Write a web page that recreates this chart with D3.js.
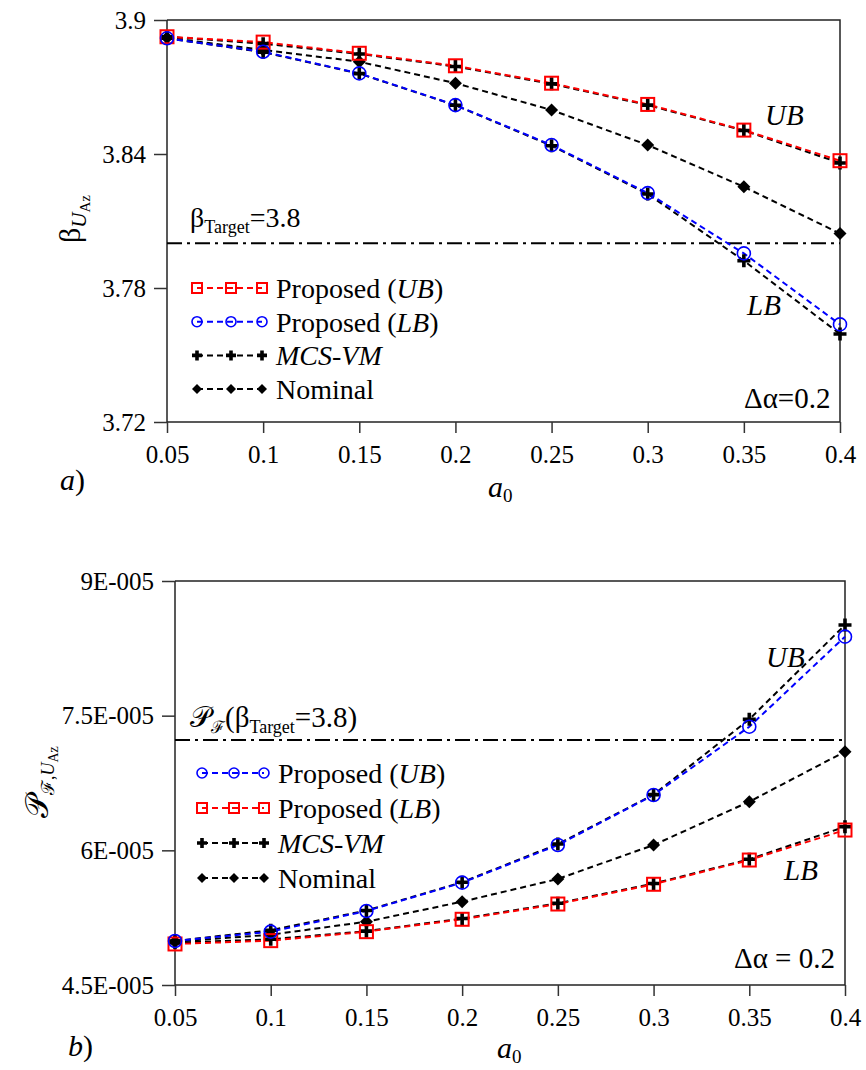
<!DOCTYPE html>
<html>

<head>
    <script src="https://d3js.org/d3.v7.min.js"></script>
</head>

<body style="margin:0">
    <svg id="canvas" width="866" height="1070" font-family="Liberation Serif"></svg>
    <script>
        const svg = d3.select('#canvas');
        const FONT = '"Liberation Serif", Tinos, "Times New Roman", serif';

        //shared x values (a0)
        const a0 = [0.05, 0.1, 0.15, 0.2, 0.25, 0.3, 0.35, 0.4];
        const xTickLabels = ['0.05', '0.1', '0.15', '0.2', '0.25', '0.3', '0.35', '0.4'];

        //panel a) reliability index
        const betaUB = [3.8925, 3.8901, 3.8851, 3.8795, 3.8717, 3.8622, 3.8507, 3.8370];
        const betaLB = [3.8918, 3.8858, 3.8761, 3.8619, 3.8440, 3.8225, 3.7955, 3.7637];
        const betaMcsUpper = [3.8925, 3.8894, 3.8848, 3.8792, 3.8714, 3.8619, 3.8505, 3.8360];
        const betaMcsLower = [3.8918, 3.8856, 3.8760, 3.8618, 3.8437, 3.8221, 3.7922, 3.7594];
        const betaNominal = [3.8921, 3.8866, 3.8813, 3.8717, 3.8597, 3.8440, 3.8253, 3.8044];
        const betaTarget = 3.8;
        const betaTicks = [3.72, 3.78, 3.84, 3.9];
        const betaTickLabels = ['3.72', '3.78', '3.84', '3.9'];

        //panel b) failure probability
        const pfUB = [4.990e-5, 5.094e-5, 5.324e-5, 5.640e-5, 6.059e-5, 6.616e-5, 7.377e-5, 8.380e-5];
        const pfLB = [4.957e-5, 4.994e-5, 5.094e-5, 5.232e-5, 5.402e-5, 5.622e-5, 5.892e-5, 6.226e-5];
        const pfMcsUpper = [4.990e-5, 5.110e-5, 5.330e-5, 5.645e-5, 6.070e-5, 6.620e-5, 7.459e-5, 8.510e-5];
        const pfMcsLower = [4.970e-5, 5.009e-5, 5.100e-5, 5.240e-5, 5.410e-5, 5.630e-5, 5.900e-5, 6.263e-5];
        const pfNominal = [4.983e-5, 5.060e-5, 5.205e-5, 5.428e-5, 5.681e-5, 6.059e-5, 6.542e-5, 7.099e-5];
        const pfTarget = 7.229e-5;
        const pfTicks = [4.5e-5, 6e-5, 7.5e-5, 9e-5];
        const pfTickLabels = ['4.5E-005', '6E-005', '7.5E-005', '9E-005'];

        const RED = '#ff0000';
        const BLUE = '#0000ff';
        const DASH = '6,4';

        //marker drawers --------------------------------------------------
        function drawMarker(g, type, cx, cy, s) {
            if (type === 'square') {
                g.append('rect').attr('x', cx - s / 2).attr('y', cy - s / 2)
                    .attr('width', s).attr('height', s)
                    .attr('fill', 'none').attr('stroke', RED).attr('stroke-width', 2);
            } else if (type === 'circle') {
                g.append('circle').attr('cx', cx).attr('cy', cy).attr('r', s / 2)
                    .attr('fill', 'none').attr('stroke', BLUE).attr('stroke-width', 1.6);
            } else if (type === 'plus') {
                g.append('path')
                    .attr('d', `M${cx - s / 2},${cy}H${cx + s / 2}M${cx},${cy - s / 2}V${cy + s / 2}`)
                    .attr('stroke', '#000').attr('stroke-width', 3.6).attr('fill', 'none');
            } else if (type === 'diamond') {
                g.append('path')
                    .attr('d', `M${cx},${cy - s / 2}L${cx + s / 2},${cy}L${cx},${cy + s / 2}L${cx - s / 2},${cy}Z`)
                    .attr('fill', '#000');
            }
        }

        //one panel -------------------------------------------------------
        function drawPanel(p) {
            const x = d3.scaleLinear().domain([0.05, 0.4]).range([p.left, p.right]);
            const y = d3.scaleLinear().domain(p.yDomain).range([p.bottom, p.top]);
            const g = svg.append('g');

            //frame (top & right)
            g.append('path')
                .attr('d', `M${p.left},${p.top}H${p.right}V${p.bottom}`)
                .attr('fill', 'none').attr('stroke', '#222').attr('stroke-width', 1.5);

            //axes
            const yAxis = g.append('g')
                .attr('transform', `translate(${p.left},0)`)
                .call(d3.axisLeft(y).tickValues(p.yTicks)
                    .tickFormat((d, i) => p.yTickLabels[i]).tickSize(13).tickPadding(8));
            const xAxis = g.append('g')
                .attr('transform', `translate(0,${p.bottom})`)
                .call(d3.axisBottom(x).tickValues(a0)
                    .tickFormat((d, i) => xTickLabels[i]).tickSize(11).tickPadding(12));
            [yAxis, xAxis].forEach(ax => {
                ax.attr('font-family', FONT).attr('font-size', 25);
                ax.select('.domain').attr('stroke', '#222').attr('stroke-width', 1.5);
                ax.selectAll('.tick line').attr('stroke', '#333').attr('stroke-width', 1.5);
                ax.selectAll('.tick text').attr('fill', '#000');
            });
            xAxis.selectAll('.domain').attr('d', `M${p.left},0H${p.right}`);
            yAxis.selectAll('.domain').attr('d', `M0,${p.bottom}V${p.top}`);

            //target line
            g.append('line')
                .attr('x1', p.left).attr('x2', p.right)
                .attr('y1', y(p.target)).attr('y2', y(p.target))
                .attr('stroke', '#000').attr('stroke-width', 2)
                .attr('stroke-dasharray', '15,5,3,5');

            //series lines then markers
            const line = d3.line().x((d, i) => x(a0[i])).y(d => y(d));
            p.series.forEach(s => {
                g.append('path').datum(s.values)
                    .attr('d', line)
                    .attr('fill', 'none').attr('stroke', s.color)
                    .attr('stroke-width', 2).attr('stroke-dasharray', DASH);
            });
            p.series.forEach(s => {
                s.values.forEach((v, i) => drawMarker(g, s.marker, x(a0[i]), y(v), s.size));
            });

            //legend
            p.legend.forEach((item, i) => {
                const ly = p.legendY + i * p.legendStep;
                g.append('line')
                    .attr('x1', p.legendX[0]).attr('x2', p.legendX[2])
                    .attr('y1', ly).attr('y2', ly)
                    .attr('stroke', item.color).attr('stroke-width', 2)
                    .attr('stroke-dasharray', DASH);
                p.legendX.forEach(lx => drawMarker(g, item.marker, lx, ly, 10));
                const t = g.append('text')
                    .attr('x', p.legendX[2] + 14).attr('y', ly + 10)
                    .attr('font-size', 28);
                item.label.forEach(part => {
                    t.append('tspan').text(part.t)
                        .attr('font-style', part.i ? 'italic' : 'normal');
                });
            });

            return { x, y, g };
        }

        //panel a)
        drawPanel({
            left: 167, right: 840, top: 20, bottom: 422,
            yDomain: [3.72, 3.9], yTicks: betaTicks, yTickLabels: betaTickLabels,
            target: betaTarget,
            series: [
                { values: betaNominal, color: '#000', marker: 'diamond', size: 13 },
                { values: betaMcsUpper, color: '#000', marker: 'plus', size: 13 },
                { values: betaMcsLower, color: '#000', marker: 'plus', size: 13 },
                { values: betaUB, color: RED, marker: 'square', size: 13 },
                { values: betaLB, color: BLUE, marker: 'circle', size: 13 }
            ],
            legendX: [197, 231, 262], legendY: 288, legendStep: 33.7,
            legend: [
                { color: RED, marker: 'square', label: [{ t: 'Proposed (' }, { t: 'UB', i: true }, { t: ')' }] },
                { color: BLUE, marker: 'circle', label: [{ t: 'Proposed (' }, { t: 'LB', i: true }, { t: ')' }] },
                { color: '#000', marker: 'plus', label: [{ t: 'MCS-VM', i: true }] },
                { color: '#000', marker: 'diamond', label: [{ t: 'Nominal' }] }
            ]
        });

        //panel b)
        drawPanel({
            left: 175, right: 845, top: 581, bottom: 985,
            yDomain: [4.5e-5, 9e-5], yTicks: pfTicks, yTickLabels: pfTickLabels,
            target: pfTarget,
            series: [
                { values: pfNominal, color: '#000', marker: 'diamond', size: 13 },
                { values: pfMcsUpper, color: '#000', marker: 'plus', size: 13 },
                { values: pfMcsLower, color: '#000', marker: 'plus', size: 13 },
                { values: pfLB, color: RED, marker: 'square', size: 13 },
                { values: pfUB, color: BLUE, marker: 'circle', size: 13 }
            ],
            legendX: [202, 234, 264], legendY: 773, legendStep: 35,
            legend: [
                { color: BLUE, marker: 'circle', label: [{ t: 'Proposed (' }, { t: 'UB', i: true }, { t: ')' }] },
                { color: RED, marker: 'square', label: [{ t: 'Proposed (' }, { t: 'LB', i: true }, { t: ')' }] },
                { color: '#000', marker: 'plus', label: [{ t: 'MCS-VM', i: true }] },
                { color: '#000', marker: 'diamond', label: [{ t: 'Nominal' }] }
            ]
        });

        //annotations -----------------------------------------------------
        function note(x, yy, parts, size) {
            const t = svg.append('text').attr('x', x).attr('y', yy).attr('font-size', size);
            parts.forEach(p => {
                const s = t.append('tspan').text(p.t)
                    .attr('font-style', p.i ? 'italic' : 'normal');
                if (p.sub) s.attr('font-size', p.sub);
                if (p.dy) s.attr('dy', p.dy);
            });
            return t;
        }

        //panel a texts
        note(190, 227, [{ t: 'β' }, { t: 'Target', sub: 18, dy: 6 }, { t: '=3.8', dy: -6 }], 28);
        note(765, 125, [{ t: 'UB', i: true }], 29);
        note(747, 315, [{ t: 'LB', i: true }], 29);
        note(744, 408, [{ t: 'Δα=0.2' }], 29);
        note(60, 490, [{ t: 'a', i: true }, { t: ')' }], 30);
        note(488, 497, [{ t: 'a', i: true }, { t: '0', sub: 19, dy: 5 }], 30);
        svg.append('text')
            .attr('transform', 'translate(80,243) rotate(-90)')
            .attr('font-size', 30)
            .call(t => {
                t.append('tspan').text('β');
                t.append('tspan').text('U').attr('font-style', 'italic').attr('font-size', 21).attr('dy', 6);
                t.append('tspan').text('Az').attr('font-size', 15).attr('dy', 4);
            });

        //panel b texts
        note(190, 727, [{ t: '𝒫' }, { t: 'ℱ', sub: 17, dy: 6 }, { t: '(β', dy: -6 }, { t: 'Target', sub: 18, dy: 6 }, { t: '=3.8)', dy: -6 }], 29);
        note(766, 667, [{ t: 'UB', i: true }], 29);
        note(784, 880, [{ t: 'LB', i: true }], 29);
        note(734, 968, [{ t: 'Δα = 0.2' }], 29);
        note(68, 1056, [{ t: 'b', i: true }, { t: ')' }], 30);
        note(497, 1058, [{ t: 'a', i: true }, { t: '0', sub: 19, dy: 5 }], 30);
        svg.append('text')
            .attr('transform', 'translate(48,818) rotate(-90)')
            .attr('font-size', 32)
            .call(t => {
                t.append('tspan').text('𝒫');
                t.append('tspan').text('ℱ,').attr('font-size', 18).attr('dy', 6);
                t.append('tspan').text('U').attr('font-style', 'italic').attr('font-size', 18);
                t.append('tspan').text('Az').attr('font-size', 14).attr('dy', 4);
            });

        //force the serif family on every text node
        svg.selectAll('text').each(function () {
            this.style.setProperty('font-family', FONT, 'important');
        });
    </script>
</body>

</html>
